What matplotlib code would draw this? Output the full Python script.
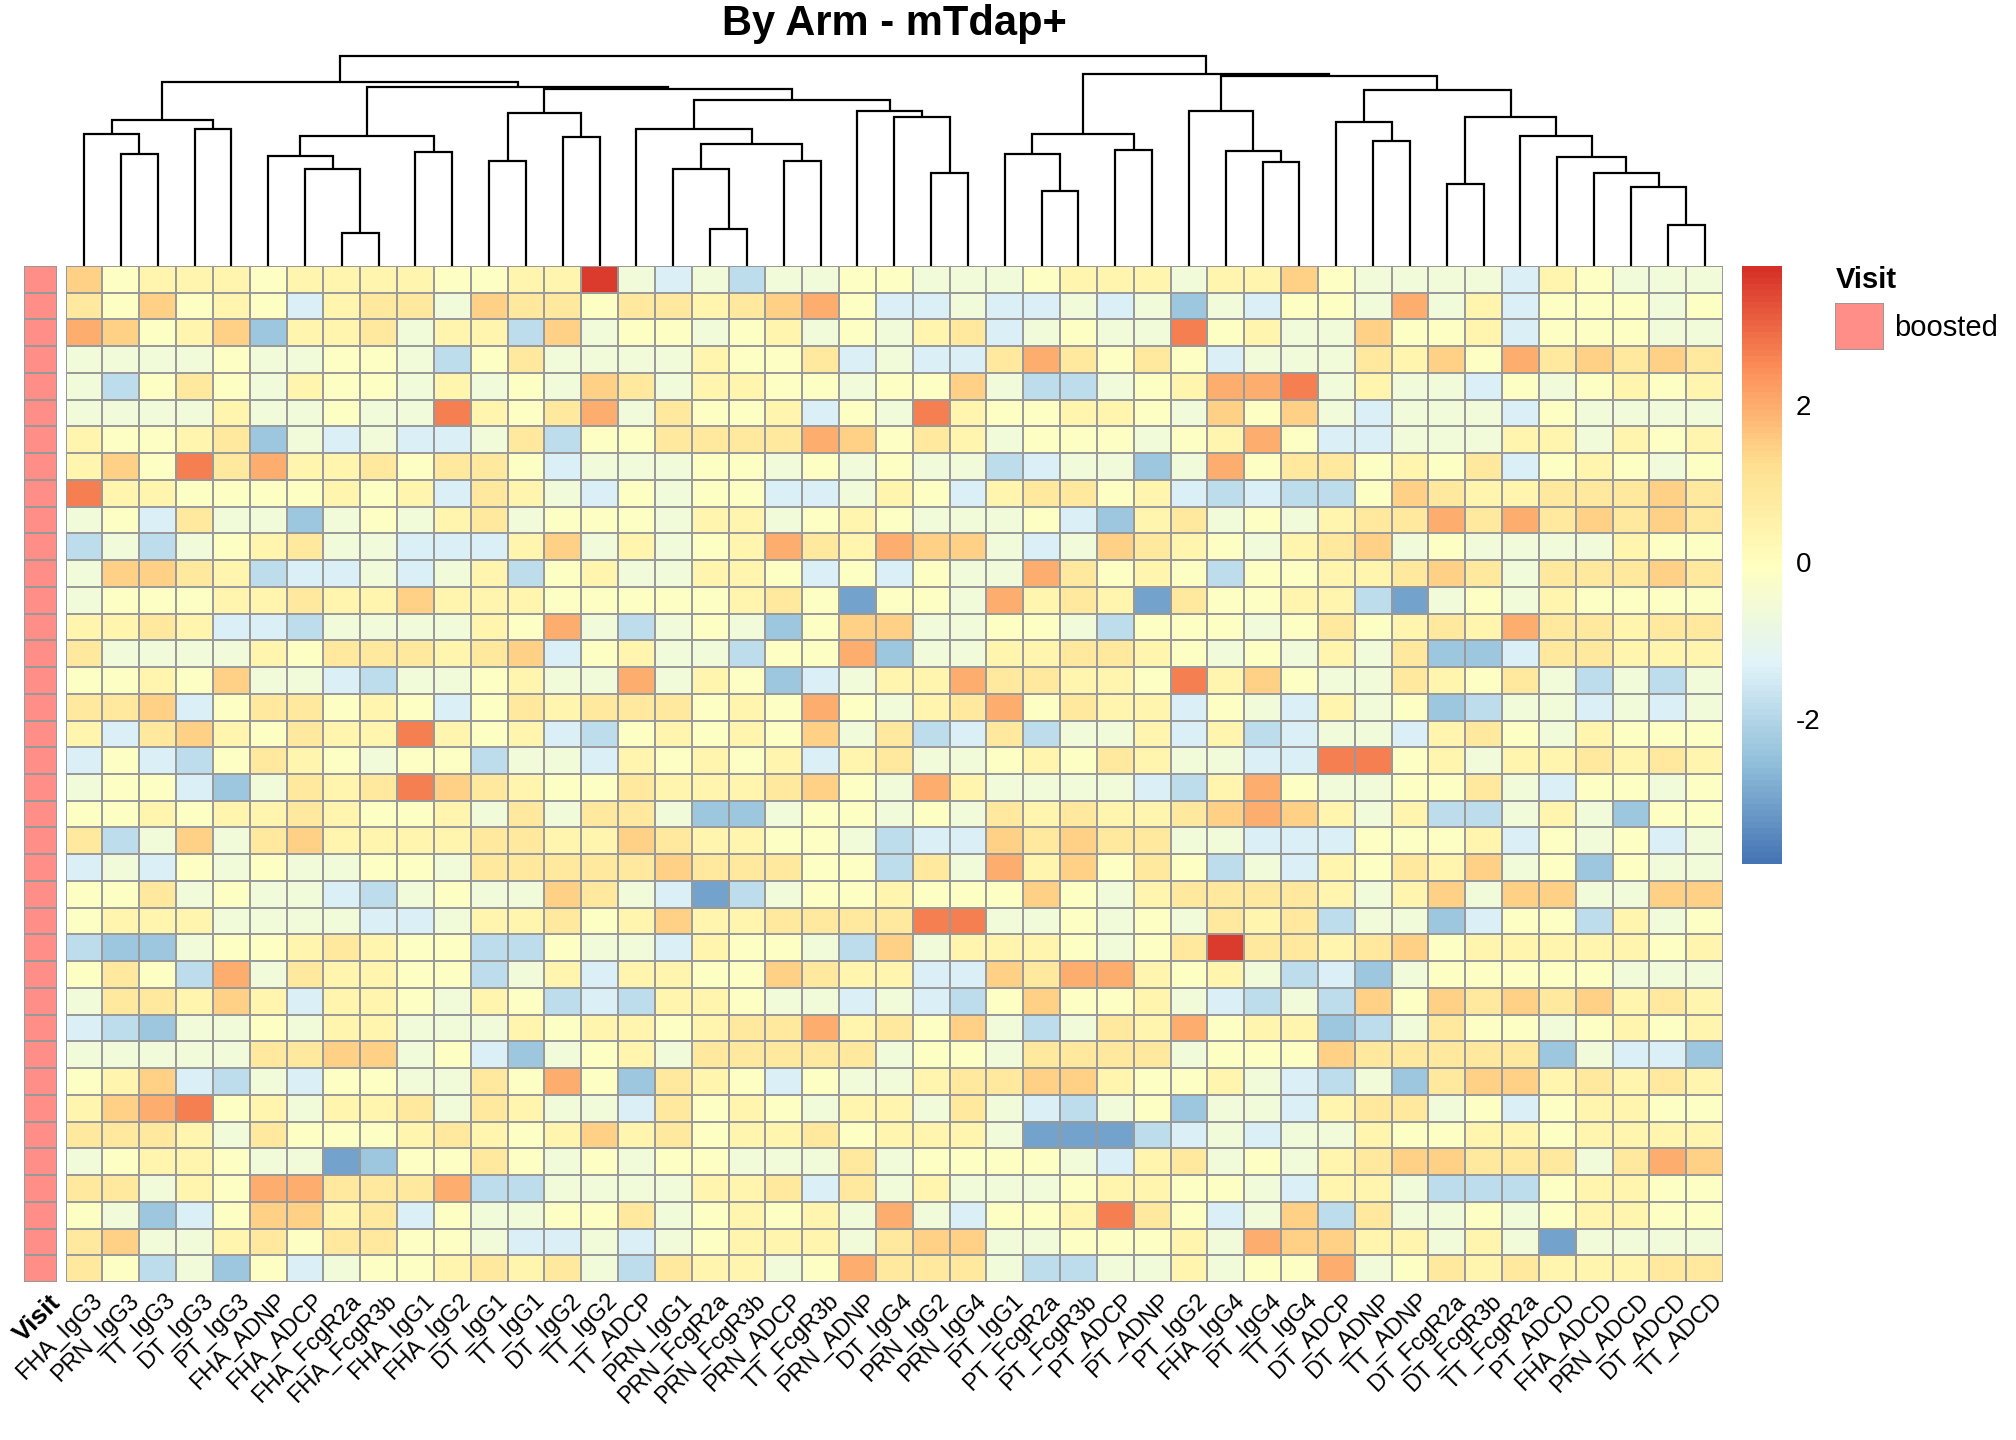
# pheatmap style clustered heatmap, rebuilt by hand in matplotlib
import numpy as np
import matplotlib.pyplot as plt
from matplotlib.colors import LinearSegmentedColormap

plt.rcParams['font.family'] = ['Liberation Sans', 'DejaVu Sans']

W, H = 2016, 1440

cols = ['FHA_IgG3', 'PRN_IgG3', 'TT_IgG3', 'DT_IgG3', 'PT_IgG3', 'FHA_ADNP', 'FHA_ADCP',
        'FHA_FcgR2a', 'FHA_FcgR3b', 'FHA_IgG1', 'FHA_IgG2', 'DT_IgG1', 'TT_IgG1', 'DT_IgG2',
        'TT_IgG2', 'TT_ADCP', 'PRN_IgG1', 'PRN_FcgR2a', 'PRN_FcgR3b', 'PRN_ADCP', 'TT_FcgR3b',
        'PRN_ADNP', 'DT_IgG4', 'PRN_IgG2', 'PRN_IgG4', 'PT_IgG1', 'PT_FcgR2a', 'PT_FcgR3b',
        'PT_ADCP', 'PT_ADNP', 'PT_IgG2', 'FHA_IgG4', 'PT_IgG4', 'TT_IgG4', 'DT_ADCP', 'DT_ADNP',
        'TT_ADNP', 'DT_FcgR2a', 'DT_FcgR3b', 'TT_FcgR2a', 'PT_ADCD', 'FHA_ADCD', 'PRN_ADCD',
        'DT_ADCD', 'TT_ADCD']

# scaled values, coded per cell
code = {'B': -3.0, 'b': -2.3, 'c': -1.8, 'd': -1.3, 'e': -0.6, '0': -0.1, '1': 0.4,
        '2': 0.9, '3': 1.5, '4': 2.0, '5': 2.7, '6': 3.6}

left = ["301110111100116ed", "203010d122e322022", "43013b112e11c3e00", "eeee0ee00ec02eeee",
        "ec020e100e1e0e32e", "eeee1ee0ee51024e2", "10012bededde2c002", "1305241120220deee",
        "5110000101d21ed0e", "e0d2eebe0e12e000e", "cece012eeddd13e1e", "e3321cddede1c01ee",
        "e0001121131110000", "1121ddceeee104ece", "2eeee10222123d01e", "00103eedcee01ee4e",
        "223d022010d021222", "1d23102115101dc01", "d0dc0210e00ceed10", "e00dbe21253210021",
        "00101121001e2e22e", "2ce3e231111221132", "ded0e0ee00e222223", "002e0eedce0ee32ed",
        "0111eeeedde112013", "cbbe0012100cc0eed", "020c4e21100ce1d11", "e22131d110e10cdc1",
        "dcbee0e11eee10110", "eeeee2233e0dbe01e", "013dced00ee2040b2", "134501e112e21eed2",
        "2221e200012101312", "e0110eeBb0020e0e0", "22e10442224cceeee", "0ebd03312d0ee002e",
        "23ee1202200eddede", "20ceb0de001212ec2"]
mid = ["ecee00eee0111e1130", "12340ddeddedebed00", "e01e0e12de0ee501ee", "1002dedd242020deee",
       "1100e003ecce01445e", "001d0e5100110e303e", "22243021e000e0140d", "00e0e0eecdeebe4022",
       "00dde10d12201dcdcc", "11e010eee0db12e0e1", "01421433ede3210e12", "110d0d0ee42010c001",
       "0120B00e4121B20011", "0eb033ee00ec000e02", "ec004bee112210e0e1", "10bde114221105130e",
       "01040e1240211d0ed1", "0103e2cd2cee1d1cde", "101d12ee01021eedd5", "11230e41eeeedc140e",
       "bbe00e0e2121123431", "1100ecdd32322eeddd", "22200c2e413020ced1", "Bce00100030e122221",
       "11222255ee0e0e212c", "100ec3e1110e026221", "003211dd3244101ecd", "10eededc03001edcec",
       "12241203ece214011b", "22222e00e2222e0003", "10d0ee122331001edc", "010e11e2edce0beed1",
       "01120111eBBBcdedee", "0eee2e0000ed12e0e1", "112d2e1eee01100ed1", "0101e4ed001520de3c",
       "0111e233ee0001e433", "11e04222eccee1e004"]
right = ["eeeed10eee", "e4e1d000e0", "3001d000ee", "2130423232", "1eed0e0101", "deeed0eeee",
         "deee11e101", "0102d010e0", "0321122232", "2242423232", "3e0eeee100", "1232e22232",
         "cBe0e10000", "0121422122", "e2bbd22111", "e2102ecece", "e0bceedede", "ed120e1000",
         "501e112121", "e002ed00e0", "e1cce1eb00", "0001d0e0de", "0213e0b0ee", "e13e33ee33",
         "eebd00c1e0", "2301111101", "be00000eee", "3032323121", "ce200e0101", "22222beddb",
         "eb23312121", "22e0d01100", "1001101111", "233222e243", "1eccc01100", "2ee0e01100",
         "11e1eBeeee", "e021211122"]

rows = []
for a, b, c in zip(left, mid, right):
    s = (a.ljust(17, '0')[:17] + b.ljust(18, '0')[:18] + c.ljust(10, '0')[:10])
    rows.append([code[ch] for ch in s])
data = np.array(rows)
nr, nc = data.shape

# column dendrogram: (left, right, merge y in pixels), leaves are column numbers
def N(a, b, y):
    return (a, b, 266 - y)

t1_5 = N(N(1, N(2, 3, 154.3), 134.3), N(4, 5, 129), 120)
t6_11 = N(N(6, N(7, N(8, 9, 233), 169.3), 156), N(10, 11, 152.3), 136.3)
t12_15 = N(N(12, 13, 161), N(14, 15, 137.3), 113.3)
t16_21 = N(16, N(N(17, N(18, 19, 229), 169.3), N(20, 21, 161), 144.3), 129)
t22_25 = N(22, N(23, N(24, 25, 172.7), 117.3), 111)
left_tree = N(t1_5, N(t6_11, N(t12_15, N(t16_21, t22_25, 100), 89.3), 86.7), 82.3)
t26_30 = N(N(26, N(27, 28, 191), 154.3), N(29, 30, 150), 134.3)
t31_34 = N(31, N(32, N(33, 34, 161.7), 151), 111)
t40_45 = N(40, N(41, N(42, N(43, N(44, 45, 225), 187.3), 172.7), 157.3), 135.7)
t35_45 = N(N(35, N(36, 37, 141), 121.7), N(N(38, 39, 184.3), t40_45, 117.3), 90)
tree = N(left_tree, N(t26_30, N(t31_34, t35_45, 75.7), 74), 55.7)


def draw(ax, node):
    if isinstance(node, int):
        return node, 0.0
    xa, ha = draw(ax, node[0])
    xb, hb = draw(ax, node[1])
    h = node[2]
    ax.plot([xa, xa, xb, xb], [ha, h, h, hb], color='black', lw=1.6,
            solid_capstyle='butt', solid_joinstyle='miter')
    return (xa + xb) / 2, h


def box(x0, y0, x1, y1):
    # pixel box (from top-left) to figure fractions
    return [x0 / W, 1 - y1 / H, (x1 - x0) / W, (y1 - y0) / H]


fig = plt.figure(figsize=(W / 100, H / 100), dpi=100)

cmap = LinearSegmentedColormap.from_list(
    'rdylbu', ['#4575b4', '#91bfdb', '#e0f3f8', '#ffffbf', '#fee090', '#fc8d59', '#d73027'], N=100)
vmin, vmax = -3.8, 3.8
grid = '#999999'

x0, x1, y0, y1 = 65.6, 1723, 266, 1282

# heatmap
ax = fig.add_axes(box(x0, y0, x1, y1))
ax.pcolormesh(np.arange(nc + 1) + 0.5, np.arange(nr + 1) + 0.5, data, cmap=cmap,
              vmin=vmin, vmax=vmax, edgecolors=grid, linewidth=1.3)
ax.set_xlim(0.5, nc + 0.5)
ax.set_ylim(nr + 0.5, 0.5)
ax.axis('off')
for i, name in enumerate(cols):
    ax.text(i + 1 + 0.2, nr + 0.8, name, rotation=45, ha='right', va='top',
            rotation_mode='anchor', fontsize=17)

# annotation column
axa = fig.add_axes(box(24, y0, 57, y1))
axa.pcolormesh(np.array([0, 1]), np.arange(nr + 1) + 0.5, np.ones((nr, 1)),
               cmap=LinearSegmentedColormap.from_list('v', ['#FF8E89', '#FF8E89']),
               edgecolors=grid, linewidth=1.3)
axa.set_xlim(0, 1)
axa.set_ylim(nr + 0.5, 0.5)
axa.axis('off')
axa.text(0.75, nr + 0.8, 'Visit', rotation=45, ha='right', va='top',
         rotation_mode='anchor', fontsize=19, fontweight='bold')

# dendrogram
axd = fig.add_axes(box(x0, 50, x1, y0))
draw(axd, tree)
axd.set_xlim(0.5, nc + 0.5)
axd.set_ylim(0, 216)
axd.axis('off')

# colour key
axc = fig.add_axes(box(1742, 266, 1782, 864))
grad = np.linspace(vmin, vmax, 101)
axc.pcolormesh([0, 1], grad, ((grad[:-1] + grad[1:]) / 2)[:, None], cmap=cmap,
               vmin=vmin, vmax=vmax)
axc.set_xlim(0, 1)
axc.set_ylim(vmin, vmax)
axc.axis('off')
for v in [2, 0, -2]:
    axc.text(1.35, v, str(v), ha='left', va='center', fontsize=20)

# legend for Visit
fig.text(1836 / W, 1 - 280 / H, 'Visit', fontsize=21, fontweight='bold', ha='left', va='center')
axl = fig.add_axes(box(1835, 303, 1884, 350))
axl.add_patch(plt.Rectangle((0, 0), 1, 1, facecolor='#FF8E89', edgecolor=grid, lw=1.3))
axl.set_xlim(0, 1)
axl.set_ylim(0, 1)
axl.axis('off')
fig.text(1894 / W, 1 - 328 / H, 'boosted', fontsize=21, ha='left', va='center')

fig.text(x0 / W + (x1 - x0) / W / 2, 1 - 24 / H, 'By Arm - mTdap+', fontsize=30,
         fontweight='bold', ha='center', va='center')

plt.savefig('out.png', dpi=100)
